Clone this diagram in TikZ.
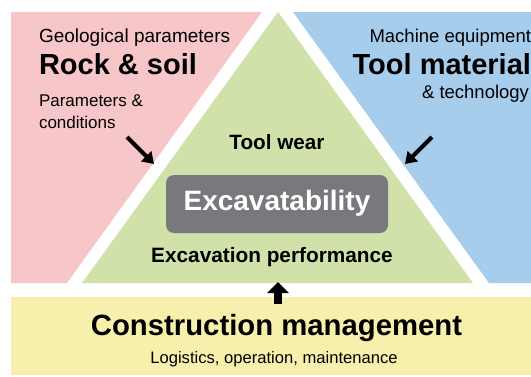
\documentclass[tikz,border=0pt]{standalone}
\usepackage{fontspec}
\setmainfont{Liberation Sans}
\usetikzlibrary{arrows.meta}
\definecolor{pinkbg}{RGB}{247,198,200}
\definecolor{greenbg}{RGB}{208,226,170}
\definecolor{bluebg}{RGB}{167,205,236}
\definecolor{yellowbg}{RGB}{246,240,172}
\definecolor{boxgrey}{RGB}{120,121,125}
\tikzset{
  txt/.style={inner sep=0pt, outer sep=0pt, text=black},
  bigarrow/.style={line width=4pt, -{Triangle[length=11pt,width=14pt]}},
  uparrow/.style={line width=8pt, -{Triangle[length=11pt,width=21pt]}},
}
\begin{document}
\begin{tikzpicture}[x=1pt,y=-1pt]
\useasboundingbox (0,0) rectangle (531,376);
\fill[white] (0,0) rectangle (531,376);
% regions
\fill[pinkbg] (11,12) -- (262,12) -- (67,283) -- (11,283) -- cycle;
\fill[bluebg] (293,12) -- (531,12) -- (531,283) -- (489,283) -- cycle;
\fill[greenbg] (278,12) -- (473,283) -- (82,283) -- cycle;
\fill[yellowbg] (11,297) rectangle (531,375);
% left texts
\node[txt, anchor=base west, font=\fontsize{19}{22}\selectfont] (geo) at (39,42) {Geological parameters};
\node[txt, anchor=base west, font=\fontsize{29}{34}\selectfont\bfseries] (rock) at (39,74) {Rock \& soil};
\node[txt, anchor=base west, font=\fontsize{17}{20}\selectfont] (par) at (39,106) {Parameters \&};
\node[txt, anchor=base west, font=\fontsize{17}{20}\selectfont] (cond) at (39,128) {conditions};
% right texts
\node[txt, anchor=base east, font=\fontsize{18.5}{22}\selectfont] (mach) at (531,42) {Machine equipment};
\node[txt, anchor=base east, font=\fontsize{29}{34}\selectfont\bfseries] (toolm) at (531,74) {Tool material};
\node[txt, anchor=base east, font=\fontsize{18.5}{22}\selectfont] (tech) at (529,98) {\& technology};
% centre
\node[txt, anchor=base, font=\fontsize{20.7}{24}\selectfont\bfseries] (wear) at (277,149) {Tool wear};
\node[fill=boxgrey, rounded corners=8pt, minimum width=222pt, minimum height=58pt, inner sep=0pt] (exc) at (277,204) {};
\node[txt, anchor=base, text=white, font=\fontsize{28}{32}\selectfont\bfseries] (exct) at (277,210) {Excavatability};
\node[txt, anchor=base, font=\fontsize{20.8}{24}\selectfont\bfseries] (perf) at (272,262) {Excavation performance};
% bottom
\node[txt, anchor=base, font=\fontsize{29.3}{34}\selectfont\bfseries] (cm) at (276.5,335) {Construction management};
\node[txt, anchor=base, font=\fontsize{16.6}{20}\selectfont] (log) at (274,363) {Logistics, operation, maintenance};
% arrows
\coordinate (la1) at (127,137);
\coordinate (la2) at (154,164);
\coordinate (ra1) at (432,137);
\coordinate (ra2) at (405,164);
\coordinate (ua1) at (278,304);
\coordinate (ua2) at (278,282);
\draw[bigarrow] (la1) -- (la2);
\draw[bigarrow] (ra1) -- (ra2);
\draw[uparrow] (ua1) -- (ua2);
\end{tikzpicture}
\end{document}
